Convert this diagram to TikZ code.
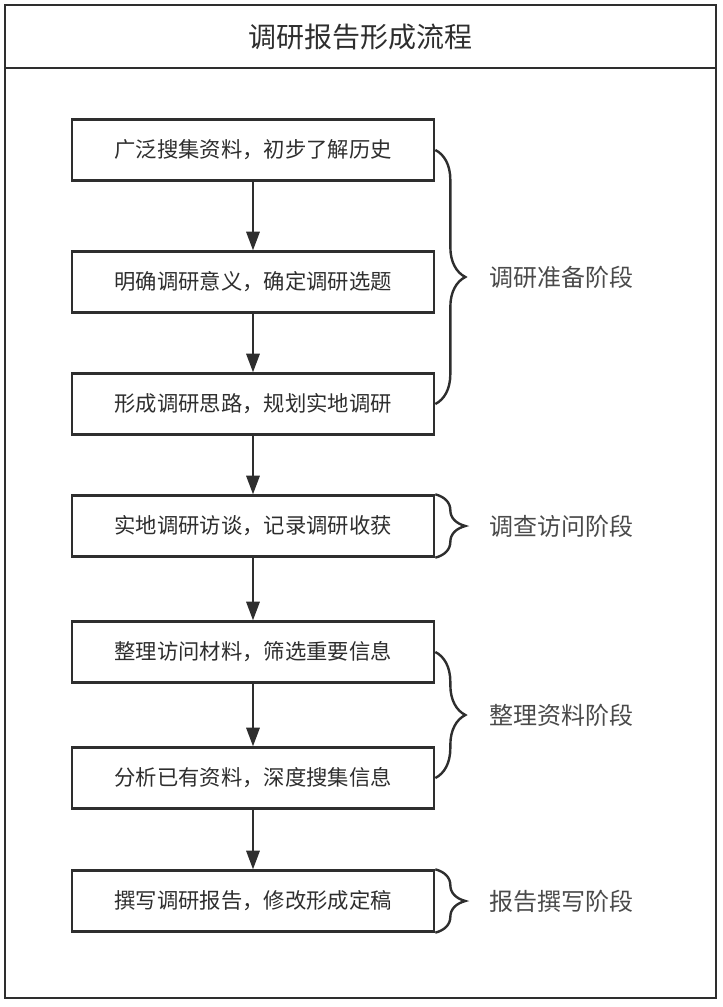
\documentclass[tikz,border=0pt]{standalone}
\usepackage{fontspec}
\newfontfamily\cjk{Noto Sans CJK SC}
\usepackage{tikz}
\usetikzlibrary{arrows.meta, positioning, calc, decorations.pathreplacing}
\usepackage{xcolor}
\definecolor{linegray}{HTML}{2E2E2E}
\definecolor{textgray}{HTML}{4A4A4A}

\begin{document}
\begin{tikzpicture}[x=0.75pt, y=0.75pt,
    stepbox/.style={draw=linegray, line width=2pt, minimum width=271.5pt, minimum height=45.5pt,
        inner sep=0pt, text=linegray, font=\cjk\fontsize{16}{18}\selectfont},
    flow/.style={draw=linegray, line width=1.7pt, -{Triangle[length=14pt, width=10pt]}},
    phase/.style={draw=linegray, line width=1.8pt, decorate, decoration={brace, amplitude=22.5pt}},
    phaselabel/.style={anchor=west, inner sep=0pt, text=textgray, font=\cjk\fontsize{18}{20}\selectfont}]
    \useasboundingbox (0,0) rectangle (722,-1007);

    % frame and title
    \draw[linegray, line width=1.8pt] (5,-5) rectangle (716,-998);
    \draw[linegray, line width=1.8pt] (5,-68) -- (716,-68);
    \node[text=linegray, font=\cjk\fontsize{21}{24}\selectfont] (title) at (360.5,-37) {调研报告形成流程};

    % steps
    \node[stepbox] (collect) at (253,-150) {广泛搜集资料，初步了解历史};
    \node[stepbox] (topic) at (253,-282) {明确调研意义，确定调研选题};
    \node[stepbox] (plan) at (253,-404) {形成调研思路，规划实地调研};
    \node[stepbox] (interview) at (253,-526) {实地调研访谈，记录调研收获};
    \node[stepbox] (sort) at (253,-652) {整理访问材料，筛选重要信息};
    \node[stepbox] (analyse) at (253,-778) {分析已有资料，深度搜集信息};
    \node[stepbox] (write) at (253,-901) {撰写调研报告，修改形成定稿};

    \foreach \a/\b in {collect/topic, topic/plan, plan/interview, interview/sort, sort/analyse, analyse/write}
        \draw[flow] (\a) -- (\b);

    % phases
    \draw[phase] (collect.east) -- (plan.east);
    \node[phaselabel] (prep) at ($(collect.east)!0.5!(plan.east)+(54,0)$) {调研准备阶段};
    \draw[phase] (interview.north east) -- (interview.south east);
    \node[phaselabel] (visit) at ($(interview.east)+(54,0)$) {调查访问阶段};
    \draw[phase] (sort.east) -- (analyse.east);
    \node[phaselabel] (tidy) at ($(sort.east)!0.5!(analyse.east)+(54,0)$) {整理资料阶段};
    \draw[phase] (write.north east) -- (write.south east);
    \node[phaselabel] (report) at ($(write.east)+(54,0)$) {报告撰写阶段};
\end{tikzpicture}
\end{document}
